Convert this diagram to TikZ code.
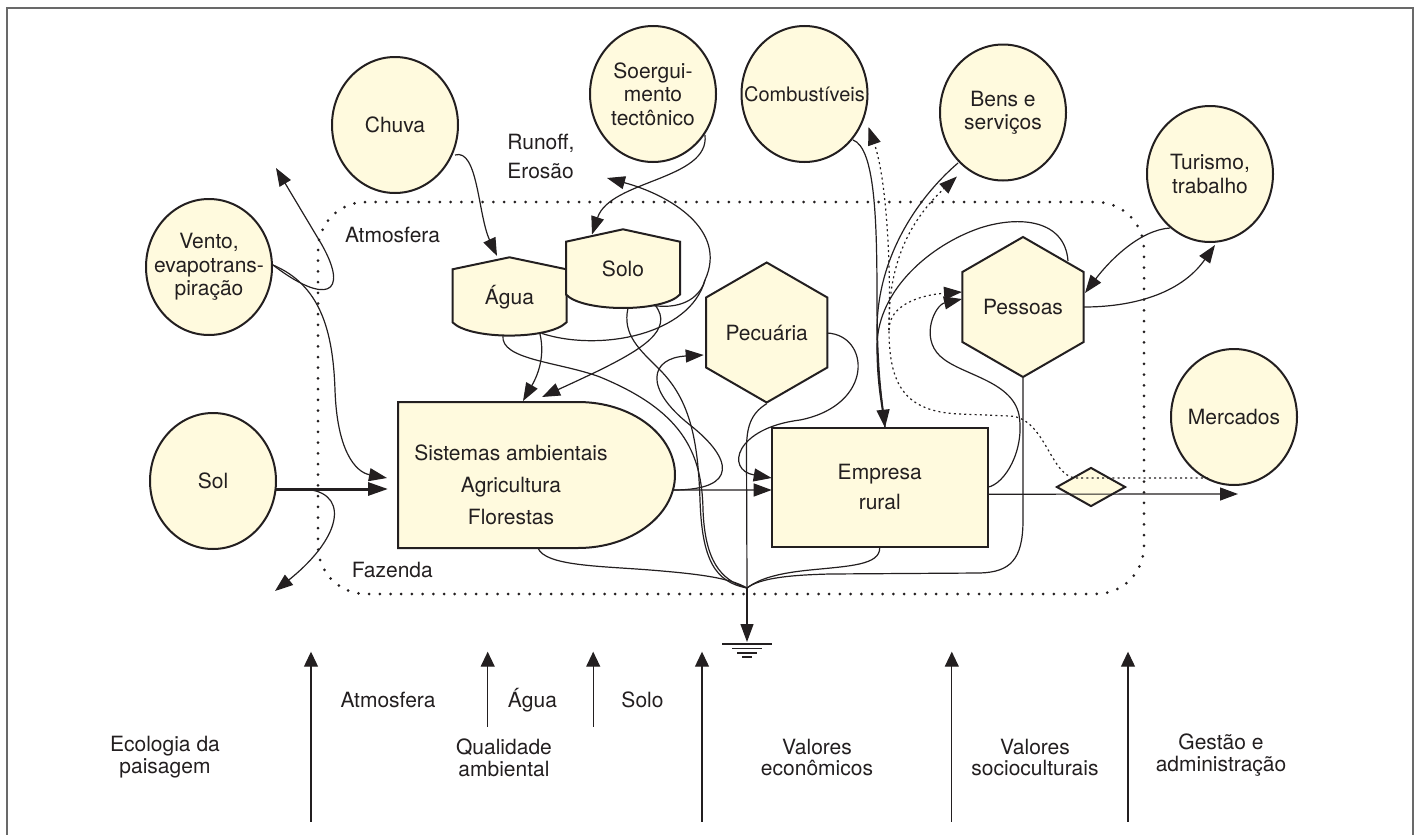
\documentclass[tikz,border=0pt]{standalone}
\usepackage{fontspec}
\setmainfont{TeX Gyre Heros}
\usetikzlibrary{arrows.meta,shapes.geometric}
\definecolor{cream}{RGB}{255,250,222}
\definecolor{ink}{RGB}{35,31,32}
\definecolor{framegray}{RGB}{105,105,105}
\begin{document}
\begin{tikzpicture}[x=0.5pt,y=-0.5pt,
  every node/.style={font=\fontsize{10.5}{11.7}\selectfont, text=ink, inner sep=0pt},
  source/.style={ellipse, draw=ink, fill=cream, line width=1pt, minimum width=63pt,
    minimum height=68pt, inner sep=-12pt, align=center},
  hexa/.style={regular polygon, regular polygon sides=6, shape border rotate=30,
    draw=ink, fill=cream, line width=1pt, minimum size=70pt},
  outline/.style={draw=ink, fill=cream, line width=1pt},
  flow/.style={draw=ink, line width=0.6pt},
  arr/.style={flow, -{Triangle[length=9pt,width=6.5pt]}},
  money/.style={draw=ink, line width=0.6pt, dash pattern=on 1pt off 1.6pt},
  moneyarr/.style={money, -{Triangle[length=9pt,width=6.5pt]}},
  axisarr/.style={draw=ink, line width=0.6pt, -{Triangle[length=7.5pt,width=7pt]}},
  farm/.style={draw=ink, line width=1.5pt, line cap=round, dash pattern=on 0pt off 5.35pt},
  twoline/.style={align=center, font=\fontsize{10.5}{10.9}\selectfont}]

\useasboundingbox (0,0) rectangle (1420,835);

% page frame, open at the bottom
\draw[framegray, line width=1pt] (7,835) -- (7,8) -- (1413,8) -- (1413,835);

% farm boundary
\draw[farm, rounded corners=24pt] (318,202) rectangle (1144,594);

% storages (tanks)
\filldraw[outline] (452.5,269.3) -- (509.5,257.3) -- (566.5,269.3) -- (566.5,322.3)
  .. controls (549,340) and (470,340) .. (452.5,322.3) -- cycle;
\filldraw[outline] (566,241.7) -- (623,229.3) -- (680,241.7) -- (680,294.5)
  .. controls (663,312.5) and (583,312.5) .. (566,294.5) -- cycle;
\node[minimum width=57pt, minimum height=39.5pt] (agua) at (509.5,297) {Água};
\node[minimum width=57pt, minimum height=39.5pt] (solo) at (623,269) {Solo};

% producer block
\filldraw[outline] (398,402) -- (578,402) .. controls (631.6,402) and (675,434.7) .. (675,475)
  .. controls (675,515.3) and (631.6,548) .. (578,548) -- (398,548) -- cycle;
\node[minimum width=138.5pt, minimum height=73pt] (sistemas) at (536.5,475) {};
\node[align=center, font=\fontsize{10.5}{16}\selectfont] (sistemaslbl) at (511,484.5)
  {Sistemas ambientais\\Agricultura\\Florestas};

% consumers
\node[hexa] (pecuaria) at (766.7,332.5) {Pecuária};
\node[hexa] (pessoas) at (1023,307) {Pessoas};

% business and transaction
\node[outline, rectangle, minimum width=108pt, minimum height=59.5pt, align=center,
  font=\fontsize{10.5}{15}\selectfont] (empresa) at (879.7,487.2) {Empresa\\rural};
\node[outline, diamond, minimum width=34.5pt, minimum height=19.5pt] (troca) at (1091,487) {};

% external sources
\node[source] (chuva) at (395,125) {Chuva};
\node[source] (vento) at (209,267) {Vento,\\evapotrans-\\piração};
\node[source] (sol) at (213,481) {Sol};
\node[source] (soerg) at (653,94) {Soergui-\\mento\\tectônico};
\node[source, font=\fontsize{10}{11.7}\selectfont] (comb) at (804.5,94) {Combustíveis};
\node[source] (bens) at (1003,112.5) {Bens e\\serviços};
\node[source] (turismo) at (1210,174) {Turismo,\\trabalho};
\node[source] (mercados) at (1234,417) {Mercados};

% labels
\node[anchor=west, align=left, font=\fontsize{10.5}{14.5}\selectfont] (runoff) at (507,156)
  {Runoff,\\Erosão};
\node (atmlbl) at (392.5,235) {Atmosfera};
\node (fazlbl) at (392.3,570) {Fazenda};

% free ends
\coordinate (sink) at (747,588);
\coordinate (gnd) at (747,642);
\coordinate (runoffout) at (607,178);
\coordinate (evapout) at (276,168);
\coordinate (solout) at (275,591);
\coordinate (mjunc) at (889,330);

% sun
\draw[draw=ink, line width=1.5pt, -{Triangle[length=10pt,width=6.5pt]}]
  ([shift={(63,8)}]sol.center) -- ([shift={(-148.5,14)}]sistemas.center);
\draw[arr] ([shift={(63,8)}]sol.center) -- (300,489) .. controls (350,489) and (345,535) .. (solout);

% wind and evapotranspiration
\draw[arr] ([shift={(64,-2)}]vento.center) .. controls (320,285) and (333,330) .. (335,390)
  .. controls (337,450) and (355,472) .. ([shift={(-149.5,3)}]sistemas.center);
\draw[arr] ([shift={(64,-2)}]vento.center) .. controls (325,305) and (350,295) .. (322,245) -- (evapout);

% rain, uplift
\draw[arr] ([shift={(60,30)}]chuva.center) .. controls (478,148) and (478,215)
  .. ([shift={(-12.5,-41)}]agua.center);
\draw[arr] ([shift={(52,41)}]soerg.center) .. controls (710,180) and (610,180)
  .. ([shift={(-31,-34.5)}]solo.center);

% runoff and erosion
\draw[arr] ([shift={(32.5,36.5)}]agua.center) .. controls (600,352) and (690,335) .. (705,280)
  .. controls (728,230) and (670,195) .. (runoffout);
\draw[flow] ([shift={(30,36.5)}]solo.center) .. controls (685,310) and (701,295) .. (705,280);

% water and soil to the producers
\draw[arr] ([shift={(30.5,37)}]agua.center) .. controls (546,360) and (535,380)
  .. ([shift={(-13.5,-74)}]sistemas.center);
\draw[arr] ([shift={(32,36)}]solo.center) .. controls (675,330) and (640,350) .. (600,370)
  .. controls (575,382) and (555,391) .. ([shift={(5.5,-78)}]sistemas.center);

% heat sink flows
\draw[flow] ([shift={(-6.5,38.5)}]agua.center) .. controls (500,360) and (560,362) .. (600,377)
  .. controls (680,410) and (702,450) .. (703,510) .. controls (705,560) and (720,580) .. (sink);
\draw[flow] ([shift={(5,39)}]solo.center) .. controls (622,335) and (640,350) .. (660,370)
  .. controls (690,400) and (698,440) .. (700,500) .. controls (702,560) and (715,582) .. (sink);
\draw[flow] ([shift={(1.5,73)}]sistemas.center) .. controls (545,566) and (600,566) .. (650,570)
  .. controls (700,574) and (730,578) .. (sink);
\draw[flow] (pecuaria.south) .. controls (750,414) and (746.5,428) .. (746.5,450) -- (sink);
\draw[flow] (empresa.south) .. controls (880,565) and (850,566) .. (810,570)
  .. controls (780,573) and (760,578) .. (sink);
\draw[flow] (pessoas.south) -- (1023,520) .. controls (1023,560) and (1010,572) .. (980,573)
  -- (830,574) .. controls (790,575) and (760,578) .. (sink);
\draw[arr] (sink) -- (gnd);
\draw[ink, line width=0.8pt] (722,644) -- (772,644) (732,648.5) -- (762,648.5)
  (737,652.7) -- (757,652.7) (742,656.7) -- (752,656.7);

% producers to livestock and business
\draw[arr] ([shift={(136.5,15)}]sistemas.center) -- ([shift={(-108,2.8)}]empresa.center);
\draw[arr] ([shift={(136.5,15)}]sistemas.center) .. controls (740,490) and (732,458) .. (690,425)
  .. controls (643,388) and (650,358) .. ([shift={(-63,22.5)}]pecuaria.center);
\draw[arr] ([shift={(60.3,0.5)}]pecuaria.center) .. controls (870,335) and (875,405) .. (800,420)
  .. controls (735,428) and (725,470) .. ([shift={(-108,-9.2)}]empresa.center);

% purchased inputs and labour into the business
\draw[arr] ([shift={(48.5,46)}]comb.center) .. controls (875,148) and (877,220) .. (877,300)
  .. controls (877,370) and (882,400) .. ([shift={(5.3,-59.5)}]empresa.center);
\draw[flow] ([shift={(-45,50.5)}]bens.center) .. controls (915,200) and (877,260) .. (877,330)
  .. controls (877,375) and (882,400) .. ([shift={(5.3,-59.5)}]empresa.center);
\draw[flow] ([shift={(45,-46)}]pessoas.center) .. controls (1065,220) and (1020,215) .. (980,228)
  .. controls (930,245) and (878,290) .. (877,345) .. controls (877,385) and (882,405)
  .. ([shift={(5.3,-59.5)}]empresa.center);

% business outputs
\draw[arr] ([shift={(108,7)}]empresa.center) -- ([shift={(4,77)}]mercados.center);
\draw[arr] ([shift={(108,0)}]empresa.center) .. controls (1005,484) and (1025,450) .. (1019,415)
  .. controls (1012,380) and (960,375) .. (940,356) .. controls (920,337) and (935,305)
  .. ([shift={(-61,-8)}]pessoas.center);

% people and tourism
\draw[arr] ([shift={(-40,54)}]turismo.center) .. controls (1140,230) and (1110,260)
  .. ([shift={(62,-14)}]pessoas.center);
\draw[arr] ([shift={(61,0)}]pessoas.center) .. controls (1130,307) and (1180,295)
  .. ([shift={(5,71)}]turismo.center);

% money flows
\draw[money] ([shift={(-26,61)}]mercados.center) -- (1075,478) .. controls (1050,475) and (1045,418)
  .. (1010,416) -- (960,414) .. controls (905,412) and (889,385) .. (mjunc);
\draw[moneyarr] (mjunc) .. controls (889,305) and (920,295) .. ([shift={(-61,-15)}]pessoas.center);
\draw[moneyarr] (mjunc) .. controls (891,270) and (887,180) .. ([shift={(64,33)}]comb.center);
\draw[moneyarr] (mjunc) .. controls (888,270) and (905,225) .. ([shift={(-46,64)}]bens.center);

% value scales along the bottom
\foreach \n/\x/\y in {a/311/821.7, b/487.7/726.7, c/593.2/726.7, d/702/821.7, e/951.8/821.7, f/1128/821.7} {
  \coordinate (base\n) at (\x,\y);
  \coordinate (tip\n) at (\x,651.7);
  \draw[axisarr] (base\n) -- (tip\n);
}
\node (batm) at (388,700) {Atmosfera};
\node (bagua) at (532.5,700) {Água};
\node (bsolo) at (642.5,700) {Solo};
\node[twoline] (beco) at (165,757.5) {Ecologia da\\paisagem};
\node[twoline] (bqual) at (504,758) {Qualidade\\ambiental};
\node[twoline] (bvale) at (817,757.5) {Valores\\econômicos};
\node[twoline] (bvals) at (1035,757.5) {Valores\\socioculturais};
\node[twoline] (bgest) at (1221,755) {Gestão e\\administração};
\end{tikzpicture}
\end{document}
